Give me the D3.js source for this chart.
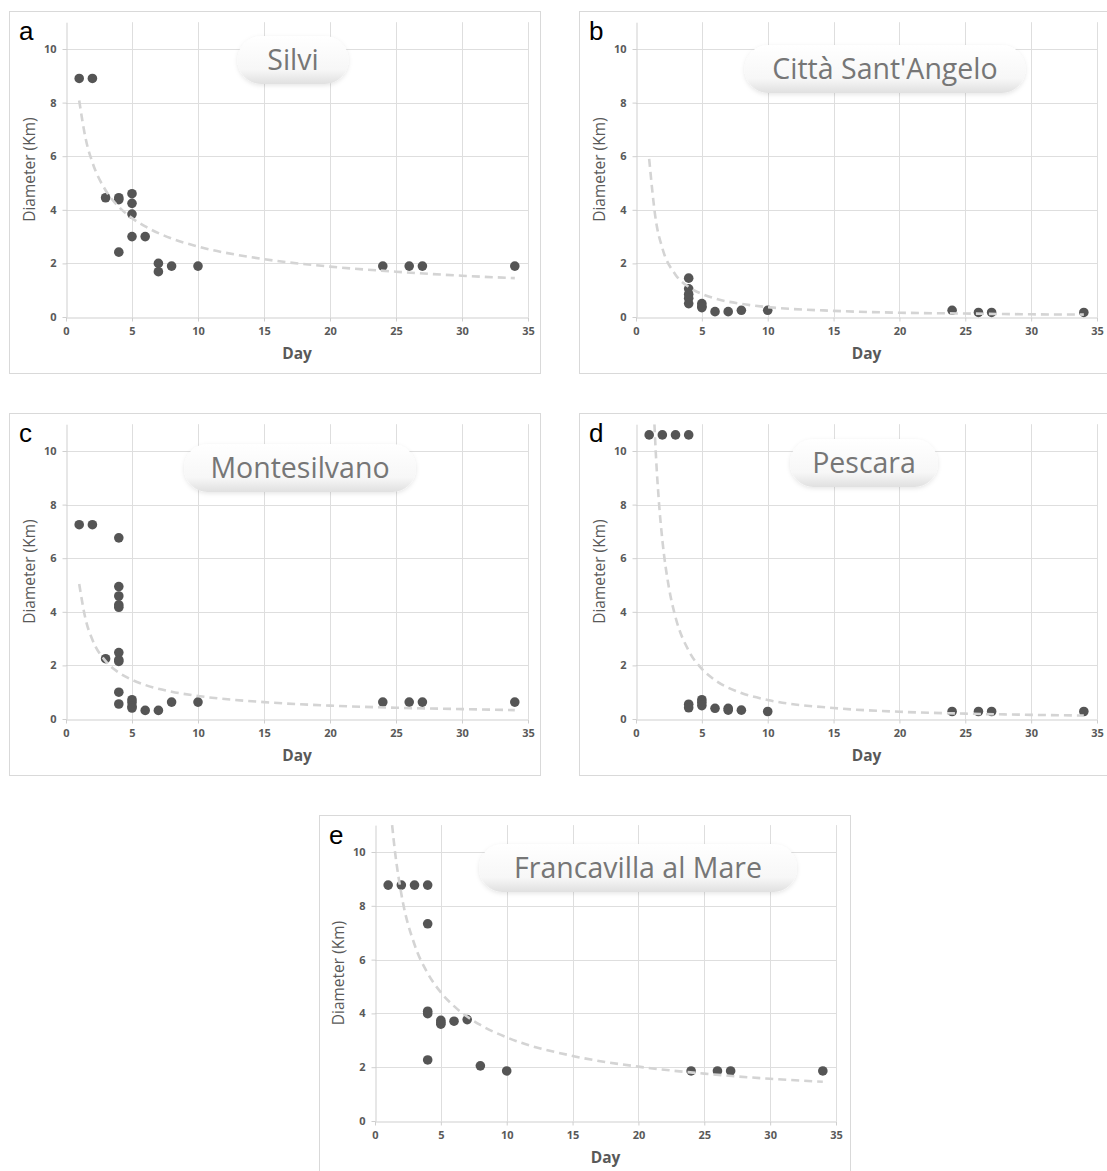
<!DOCTYPE html>
<meta charset="utf-8">
<style>
  body { margin: 0; background: #fff; }
  text { font-family: "Open Sans", "DejaVu Sans", sans-serif; }
</style>
<body>
<script src="https://d3js.org/d3.v7.min.js"></script>
<div id="chart"></div>
<script>

// tick labels shared by all five panels
var xTicks = [0, 5, 10, 15, 20, 25, 30, 35];
var yTicks = [0, 2, 4, 6, 8, 10];

// a - Silvi
var silviDays = [1, 2, 3, 4, 4, 4, 5, 5, 5, 5, 6, 7, 7, 8, 10, 24, 26, 27, 34];
var silviKm   = [8.9, 8.9, 4.45, 4.45, 4.38, 2.42, 4.6, 4.24, 3.84, 3.0, 3.0, 2.0, 1.69, 1.9, 1.9, 1.9, 1.9, 1.9, 1.9];
var silviTrendDays = [1, 1.5, 2, 3, 4, 5, 6, 8, 10, 15, 20, 25, 30, 34];
var silviTrendKm   = [8.08, 6.63, 5.77, 4.73, 4.11, 3.69, 3.38, 2.93, 2.63, 2.16, 1.88, 1.69, 1.54, 1.45];

// b - Città Sant'Angelo
var cittaDays = [4, 4, 4, 4, 4, 5, 5, 5, 6, 7, 8, 10, 24, 26, 27, 34];
var cittaKm   = [1.45, 1.05, 0.85, 0.7, 0.5, 0.5, 0.4, 0.35, 0.2, 0.2, 0.25, 0.25, 0.25, 0.17, 0.17, 0.17];
var cittaTrendDays = [1, 1.5, 2, 3, 4, 5, 6, 8, 10, 15, 20, 25, 30, 34];
var cittaTrendKm   = [5.9, 3.63, 2.57, 1.58, 1.12, 0.86, 0.69, 0.49, 0.37, 0.23, 0.16, 0.13, 0.10, 0.09];

// c - Montesilvano
var monteDays = [1, 2, 3, 4, 4, 4, 4, 4, 4, 4, 4, 4, 4, 5, 5, 5, 5, 6, 7, 8, 10, 24, 26, 27, 34];
var monteKm   = [7.25, 7.25, 2.25, 6.76, 4.94, 4.59, 4.26, 4.17, 2.48, 2.21, 2.15, 1.0, 0.56, 0.72, 0.62, 0.47, 0.41, 0.32, 0.32, 0.63, 0.63, 0.63, 0.63, 0.63, 0.63];
var monteTrendDays = [1, 1.5, 2, 3, 4, 5, 6, 8, 10, 15, 20, 25, 30, 34];
var monteTrendKm   = [5.04, 3.69, 2.96, 2.16, 1.73, 1.46, 1.27, 1.02, 0.86, 0.63, 0.50, 0.42, 0.37, 0.33];

// d - Pescara
var pescaraDays = [1, 2, 3, 4, 4, 4, 5, 5, 5, 6, 7, 7, 8, 10, 24, 26, 27, 34];
var pescaraKm   = [10.6, 10.6, 10.6, 10.6, 0.55, 0.42, 0.72, 0.62, 0.5, 0.4, 0.4, 0.33, 0.33, 0.28, 0.28, 0.28, 0.28, 0.28];
var pescaraTrendDays = [1.4, 1.5, 1.75, 2, 2.5, 3, 4, 5, 6, 8, 10, 15, 20, 25, 30, 34];
var pescaraTrendKm   = [11.0, 9.96, 8.04, 6.68, 4.90, 3.80, 2.55, 1.87, 1.45, 0.97, 0.71, 0.41, 0.27, 0.20, 0.155, 0.13];

// e - Francavilla al Mare
var francaDays = [1, 2, 3, 4, 4, 4, 4, 4, 5, 5, 5, 6, 7, 8, 10, 24, 26, 27, 34];
var francaKm   = [8.77, 8.77, 8.77, 8.77, 7.33, 4.08, 3.99, 2.27, 3.74, 3.66, 3.6, 3.71, 3.77, 2.05, 1.86, 1.86, 1.86, 1.86, 1.86];
var francaTrendDays = [1.3, 1.5, 2, 3, 4, 5, 6, 8, 10, 15, 20, 25, 30, 34];
var francaTrendKm   = [11.0, 10.09, 8.44, 6.56, 5.49, 4.78, 4.27, 3.57, 3.11, 2.42, 2.02, 1.76, 1.57, 1.46];

function zip(a, b) { return a.map(function(v, i) { return [v, b[i]]; }); }

// panel layout (box = outer frame, x0/x35 and y0/y10 = pixel positions of axis values)
var panels = [
  {letter: "a", title: "Silvi", pillW: 111, pillX: 293, pillY: 60,
   box: [9, 11, 531, 362], x0: 66, x35: 528, y0: 317, y10: 49,
   pts: zip(silviDays, silviKm), trend: zip(silviTrendDays, silviTrendKm)},
  {letter: "b", title: "Città Sant'Angelo", pillW: 281, pillX: 885, pillY: 69,
   box: [579, 11, 540, 362], x0: 636, x35: 1097, y0: 317, y10: 49,
   pts: zip(cittaDays, cittaKm), trend: zip(cittaTrendDays, cittaTrendKm)},
  {letter: "c", title: "Montesilvano", pillW: 232, pillX: 300, pillY: 468,
   box: [9, 413, 531, 362], x0: 66, x35: 528, y0: 719, y10: 451,
   pts: zip(monteDays, monteKm), trend: zip(monteTrendDays, monteTrendKm)},
  {letter: "d", title: "Pescara", pillW: 148, pillX: 864, pillY: 463,
   box: [579, 413, 540, 362], x0: 636, x35: 1097, y0: 719, y10: 451,
   pts: zip(pescaraDays, pescaraKm), trend: zip(pescaraTrendDays, pescaraTrendKm)},
  {letter: "e", title: "Francavilla al Mare", pillW: 318, pillX: 638, pillY: 868,
   box: [319, 815, 531, 370], x0: 375, x35: 836, y0: 1121, y10: 852,
   pts: zip(francaDays, francaKm), trend: zip(francaTrendDays, francaTrendKm)}
];

var svg = d3.select("#chart")
  .append("svg")
    .attr("width", 1107)
    .attr("height", 1171);

svg.append("rect").attr("width", 1107).attr("height", 1171).attr("fill", "#fff");

var defs = svg.append("defs");

var grad = defs.append("linearGradient")
    .attr("id", "pillGrad")
    .attr("x1", 0).attr("y1", 0).attr("x2", 0).attr("y2", 1);
grad.append("stop").attr("offset", "0%").attr("stop-color", "#ffffff");
grad.append("stop").attr("offset", "70%").attr("stop-color", "#f7f7f7");
grad.append("stop").attr("offset", "100%").attr("stop-color", "#e0e0e0");

var shadow = defs.append("filter")
    .attr("id", "pillShadow")
    .attr("x", "-20%").attr("y", "-30%").attr("width", "140%").attr("height", "170%");
shadow.append("feDropShadow")
    .attr("dx", 0).attr("dy", 1.5)
    .attr("stdDeviation", 2)
    .attr("flood-color", "#000")
    .attr("flood-opacity", 0.1);

panels.forEach(function(p, idx) {
  var g = svg.append("g");

  // outer frame
  g.append("rect")
    .attr("x", p.box[0] + 0.5)
    .attr("y", p.box[1] + 0.5)
    .attr("width", p.box[2])
    .attr("height", p.box[3])
    .attr("fill", "none")
    .attr("stroke", "#d9d9d9");

  var x = d3.scaleLinear().domain([0, 35]).range([p.x0, p.x35]);
  var y = d3.scaleLinear().domain([0, 11]).range([p.y0, p.y0 - 1.1 * (p.y0 - p.y10)]);

  // gridlines
  g.append("g").selectAll("line")
    .data(xTicks.slice(1))
    .enter().append("line")
      .attr("x1", function(d) { return Math.round(x(d)) + 0.5; })
      .attr("x2", function(d) { return Math.round(x(d)) + 0.5; })
      .attr("y1", y(0))
      .attr("y2", y(11))
      .attr("stroke", "#dedede");

  g.append("g").selectAll("line")
    .data(yTicks.slice(1))
    .enter().append("line")
      .attr("x1", x(0))
      .attr("x2", x(35))
      .attr("y1", function(d) { return Math.round(y(d)) + 0.5; })
      .attr("y2", function(d) { return Math.round(y(d)) + 0.5; })
      .attr("stroke", "#dedede");

  // axes
  var xAxis = g.append("g")
    .attr("transform", "translate(0," + (Math.round(y(0)) + 0.5) + ")")
    .call(d3.axisBottom(x).tickValues(xTicks).tickSize(4).tickSizeOuter(0).tickPadding(6));
  var yAxis = g.append("g")
    .attr("transform", "translate(" + (Math.round(x(0)) + 0.5) + ",0)")
    .call(d3.axisLeft(y).tickValues(yTicks).tickSize(4).tickSizeOuter(0).tickPadding(6));

  [xAxis, yAxis].forEach(function(ax) {
    ax.select(".domain").attr("stroke", "#cfcfcf");
    ax.selectAll(".tick line").attr("stroke", "#cfcfcf");
    ax.selectAll(".tick text")
      .attr("fill", "#595959")
      .style("font-family", "'Open Sans', sans-serif")
      .style("font-size", "11px")
      .style("font-weight", "bold");
  });

  // axis titles
  g.append("text")
    .attr("x", (x(0) + x(35)) / 2)
    .attr("y", p.y0 + 42)
    .attr("text-anchor", "middle")
    .attr("fill", "#595959")
    .style("font-size", "15.5px")
    .style("font-weight", "bold")
    .text("Day");

  g.append("text")
    .attr("transform", "translate(" + (p.x0 - 31) + "," + ((y(0) + y(11)) / 2) + ") rotate(-90)")
    .attr("text-anchor", "middle")
    .attr("fill", "#595959")
    .style("font-size", "15.5px")
    .text("Diameter (Km)");

  // points
  g.append("g").selectAll("circle")
    .data(p.pts)
    .enter().append("circle")
      .attr("cx", function(d) { return x(d[0]); })
      .attr("cy", function(d) { return y(d[1]); })
      .attr("r", 4.8)
      .attr("fill", "#555555");

  // power trendline, clipped to the plot area
  var clipId = "clip" + idx;
  defs.append("clipPath").attr("id", clipId)
    .append("rect")
      .attr("x", x(0)).attr("y", y(11))
      .attr("width", x(35) - x(0)).attr("height", y(0) - y(11));

  var line = d3.line()
    .x(function(d) { return x(d[0]); })
    .y(function(d) { return y(d[1]); })
    .curve(d3.curveMonotoneX);

  g.append("path")
    .datum(p.trend)
    .attr("clip-path", "url(#" + clipId + ")")
    .attr("d", line)
    .attr("fill", "none")
    .attr("stroke", "#d4d4d4")
    .attr("stroke-width", 2.6)
    .attr("stroke-dasharray", "8,5");

  // title pill
  var pill = g.append("g").attr("transform", "translate(" + p.pillX + "," + p.pillY + ")");
  pill.append("rect")
    .attr("x", -p.pillW / 2)
    .attr("y", -24)
    .attr("width", p.pillW)
    .attr("height", 48)
    .attr("rx", 24)
    .attr("fill", "url(#pillGrad)")
    .attr("filter", "url(#pillShadow)");
  pill.append("text")
    .attr("text-anchor", "middle")
    .attr("y", 10)
    .attr("fill", "#767676")
    .style("font-size", "28.5px")
    .text(p.title);

  // panel letter
  g.append("text")
    .attr("x", p.box[0] + 10)
    .attr("y", p.box[1] + 29)
    .attr("fill", "#000")
    .style("font-family", "'Liberation Sans', Arial, sans-serif")
    .style("font-size", "26px")
    .text(p.letter);
});

</script>
</body>
